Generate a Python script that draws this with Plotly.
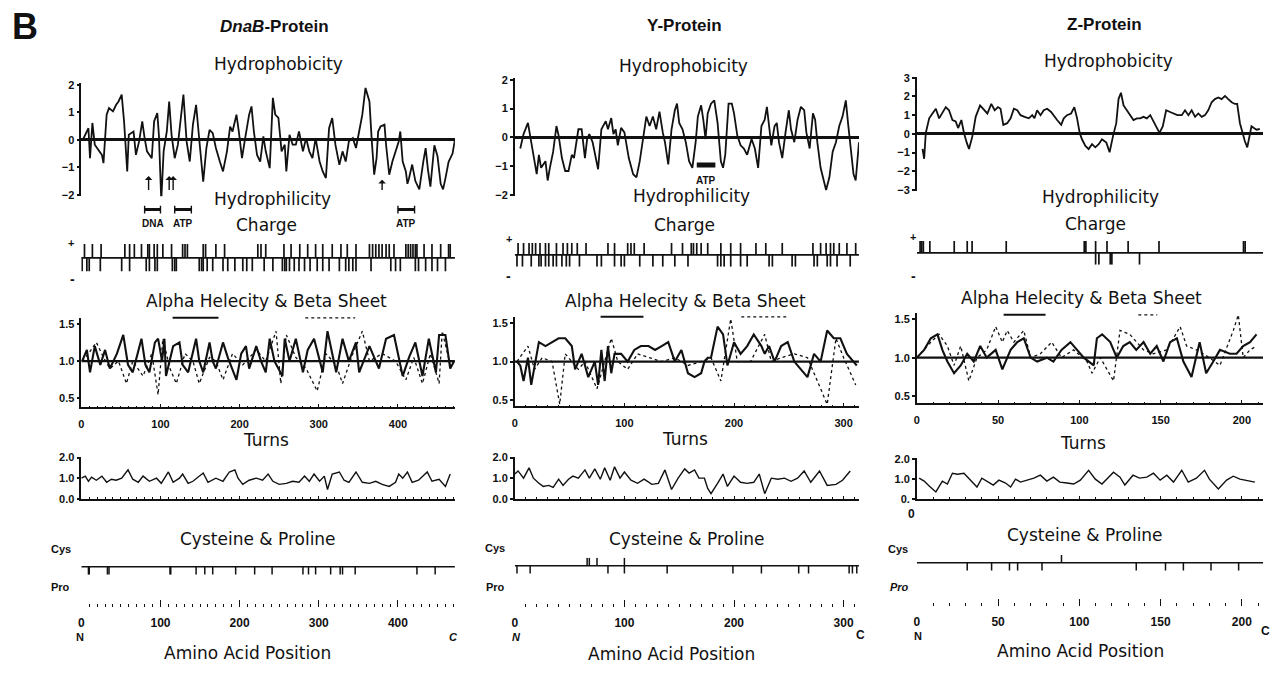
import plotly.graph_objects as go

W, H = 1272, 674
SANS = "DejaVu Sans, Liberation Sans, Arial, sans-serif"
HEAD = "Liberation Sans, Arial, Helvetica, sans-serif"
INK = "#111111"

# ---------------- data (residue, value) ----------------
dnab_hydro = [(2,0),(7,0.30),(9,0.42),(11,-0.67),(14,0.61),(17,-0.18),(21,-0.36),(26,-0.55),(28,-0.85),(32,0.91),
    (35,1.15),(40,1.03),(44,1.27),(47,1.39),(51,1.64),(54,0.67),(58,-1.15),(60,0.18),(66,0.30),(69,-0.55),
    (73,-0.06),(77,0.67),(80,0.06),(83,-0.42),(89,-0.67),(92,0.67),(96,0.97),(98,0.18),(101,-2.2),(104,-0.42),
    (108,0.30),(111,1.39),(114,0.18),(118,-0.67),(122,-0.18),(126,0.91),(129,1.64),(133,-0.06),(137,-0.79),(141,0.55),
    (145,1.27),(150,-0.30),(154,-1.52),(158,-0.30),(162,0.36),(166,0.24),(170,-0.30),(175,-0.79),(179,-1.15),(184,-0.42),
    (188,0.48),(191,0.30),(196,0.91),(199,0.30),(203,-0.67),(207,0.06),(212,0.91),(215,1.21),(218,0.30),(222,-0.55),
    (226,-0.79),(230,0.12),(233,-0.42),(238,-1.03),(242,1.52),(245,0.91),(249,0.79),(253,-0.42),(257,-0.18),(259,-1.15),
    (263,0.18),(267,-0.18),(271,-0.18),(275,0.30),(280,-0.42),(284,0.06),(288,-0.42),(292,-0.67),(296,0.06),(301,-0.79),
    (305,-1.15),(309,-1.39),(313,0.42),(317,0.79),(321,-0.18),(326,-0.91),(330,-0.42),(334,-0.79),(338,-0.06),(343,0.06),
    (347,-0.30),(351,0.30),(355,0.91),(359,1.88),(364,1.39),(367,-0.06),(370,-1.27),(373,-0.67),(375,0.30),(378,0.48),
    (383,0.55),(385,-0.18),(389,-1.27),(393,-0.79),(397,-0.42),(401,-0.06),(403,0.30),(406,-0.79),(410,-1.15),(412,-1.6),
    (414,-1.4),(418,-0.9),(422,-1.5),(427,-1.8),(432,-0.8),(435,-0.3),(438,-1.1),(441,-1.7),(446,-0.2),(450,-0.6),
    (454,-1.6),(457,-1.8),(460,-1.4),(464,-0.8),(469,-0.5),(472,0)]

y_hydro = [(5,-0.39),(8,0.11),(12,0.5),(14,0.06),(17,-0.61),(20,-1.28),(22,-0.61),(24,-1.06),(28,-0.83),(30,-1.5),
    (32,-1.06),(35,-0.5),(38,0.39),(40,0.06),(43,-0.72),(46,-1.17),(49,-1.17),(52,-0.61),(54,-0.72),(58,0.28),
    (61,0.28),(64,-0.72),(66,-0.06),(68,0.11),(71,-0.17),(74,-0.72),(76,-1.11),(79,0.28),(83,0.56),(85,0.28),
    (88,0.67),(90,0.11),(92,0.28),(94,-0.28),(97,0.33),(100,0.17),(104,-0.72),(108,-1.28),(111,-1.39),(114,-0.83),
    (117,-0.06),(120,0.72),(123,0.39),(126,0.72),(129,0.28),(132,0.89),(135,0.17),(137,-0.17),(140,-0.94),(143,0.28),
    (146,0.94),(148,1.17),(150,0.5),(153,0.28),(156,-0.17),(159,-0.83),(162,-1.06),(165,-0.17),(167,0.72),(170,1.11),
    (172,0.61),(174,-0.06),(176,0.83),(179,1.17),(182,1.28),(185,0.5),(188,-0.83),(190,-1.06),(192,-0.61),(195,1.17),
    (198,1.17),(200,0.83),(203,0.06),(206,-0.28),(209,-0.39),(212,-0.61),(216,-0.06),(219,-0.39),(222,-1.06),(225,0.39),
    (228,0.61),(230,1.06),(232,0.39),(234,-0.28),(237,0.39),(239,0.5),(241,-0.17),(244,-0.72),(247,0.17),(250,0.94),
    (252,0.28),(255,-0.17),(258,0.61),(261,1.06),(264,0.94),(266,0.17),(269,-0.39),(272,0.83),(274,0.61),(276,-0.17),
    (279,-1.06),(284,-1.83),(287,-1.39),(290,-0.5),(293,-0.17),(296,0.39),(299,0.72),(302,1.28),(304,0.5),(306,-0.28),
    (309,-1.28),(311,-1.5),(314,-0.17)]

z_hydro = [(3.5,-0.8),(4.5,-1.33),(5.5,0.05),(7.6,0.83),(9.6,1.09),(11.7,1.34),(13.7,0.83),(15.7,1.09),(17.8,1.43),(19.8,1.26),
    (21.9,0.74),(23.9,0.66),(25.4,0.31),(27.4,0.74),(29,0.05),(30.7,-0.47),(32.1,-0.81),(34.2,-0.12),(36.2,0.91),(38.9,1.52),
    (41.3,1.26),(43.4,1.09),(45.8,1.6),(47.9,1.26),(49.9,1.43),(51.5,1.34),(53.2,0.48),(55.6,0.57),(57.7,0.83),(59.7,1.34),
    (61.8,1.26),(63.8,1.0),(66.3,0.91),(68.9,0.83),(71,1.0),(72.4,0.83),(74,1.26),(76.1,1.0),(78.1,1.26),(80.2,1.34),
    (82.6,1.17),(84.7,0.91),(86.3,0.74),(88.8,0.48),(90.4,0.83),(92.4,1.0),(94.9,1.09),(96.9,1.43),(98.6,0.83),(100.2,0.05),
    (101.6,-0.29),(103.7,-0.64),(105.7,-0.81),(107.8,-0.55),(109.8,-0.72),(111.9,-0.55),(113.9,-0.29),(116.6,-0.47),(118.6,-0.98),(120.7,-0.12),
    (122.7,0.57),(124.1,1.86),(125.6,2.2),(127.2,1.52),(129.2,1.26),(131.3,1.0),(133.3,0.74),(135.4,0.83),(137.4,0.83),(139.5,0.91),
    (141.5,0.83),(143.6,1.0),(145.6,0.66),(147.6,0.31),(149.3,0.05),(151.3,0.4),(153.4,1.26),(155.8,1.17),(157.9,1.09),(160.3,1.0),
    (163,1.0),(165,1.26),(167.1,1.0),(169.1,1.26),(171.2,0.91),(173.2,1.09),(175.3,0.91),(177.3,1.0),(179.3,1.26),(181.4,1.69),
    (183.4,1.86),(185.5,1.95),(187.5,1.86),(189.6,2.03),(191.6,1.86),(193.7,1.69),(195.7,1.6),(197.1,1.6),(198.8,0.57),(200.4,-0.03),
    (201.8,-0.38),(203.3,-0.72),(204.5,-0.12),(205.9,0.4),(207.4,0.31),(209,0.22),(211,0.26)]

dnab_charge_pos = [4,14,25,55,61,67,76,84,86,92,96,103,114,128,131,134,154,157,170,181,223,227,233,256,265,276,286,296,305,317,
    328,336,347,364,368,372,376,380,385,389,395,410,413,416,419,422,424,433,443,454,464,466]
dnab_charge_neg = [1,7,10,24,51,61,82,86,93,96,115,118,120,149,152,154,159,166,179,185,194,204,209,216,231,242,254,257,259,263,
    269,275,282,289,298,305,313,326,334,338,343,347,366,391,397,403,422,426,435,443,450,460]
y_charge_pos = [3,8,13,16,19,23,28,31,38,44,48,52,57,65,85,91,103,106,109,118,143,153,161,163,166,170,176,188,197,206,220,229,
    244,272,279,284,288,291,296,303,311]
y_charge_neg = [2,7,15,22,24,28,31,35,38,43,47,50,59,75,79,91,97,100,114,126,135,146,158,185,188,191,197,206,212,232,235,253,
    256,273,276,285,288,294,306]
z_charge_pos = [2,3,4,8,23,31,34,55,103,104,110,117,130,149,201,202]
z_charge_neg = [110,112,119,120,137]

dnab_alpha = [(1,1.0),(7,1.15),(11,0.85),(17,1.2),(24,0.95),(30,1.15),(36,0.9),(45,1.1),(53,1.35),(59,0.95),(65,0.85),(72,1.15),
    (76,1.3),(81,0.95),(86,0.85),(93,1.25),(97,1.3),(102,1.0),(105,1.3),(107,0.8),(116,1.2),(124,1.25),(128,0.95),(135,0.85),
    (145,1.3),(149,1.0),(154,0.85),(162,1.25),(166,1.0),(170,0.9),(179,1.25),(185,1.05),(196,0.75),(202,1.1),(208,1.2),(212,0.9),
    (221,1.2),(227,1.0),(233,0.85),(238,1.3),(244,1.0),(254,0.8),(257,1.3),(263,1.0),(271,1.3),(280,0.85),(286,1.15),(294,1.3),
    (305,0.85),(311,1.4),(322,0.85),(330,1.3),(338,1.0),(347,1.25),(351,0.85),(364,1.2),(376,0.9),(385,1.3),(395,1.35),(406,0.8),
    (414,1.05),(422,1.25),(431,0.8),(439,1.3),(448,0.85),(452,1.35),(460,1.35),(466,0.9),(471,1.0)]
dnab_beta = [(1,1.0),(9,1.1),(19,1.25),(28,1.05),(36,0.9),(47,1.0),(57,0.7),(65,1.0),(78,0.8),(89,1.1),(97,0.55),(103,1.3),
    (112,0.9),(120,0.7),(131,1.1),(141,1.0),(149,0.7),(162,1.05),(170,1.0),(179,0.75),(191,1.1),(204,0.95),(221,1.15),(233,1.0),
    (246,1.4),(252,0.7),(259,1.35),(271,1.05),(284,0.9),(298,0.6),(309,1.1),(322,0.95),(330,0.7),(343,1.1),(355,1.4),(364,1.0),
    (380,1.1),(397,1.0),(410,0.75),(420,1.05),(431,0.7),(441,1.1),(452,0.7),(456,1.4),(466,0.95),(471,1.0)]
y_alpha = [(2,1.0),(5,0.95),(8,0.75),(12,1.05),(15,0.7),(22,1.25),(28,1.2),(34,1.25),(40,1.3),(46,1.3),(52,1.2),(55,0.9),
    (61,1.1),(67,0.8),(73,1.0),(76,0.7),(79,1.15),(82,0.75),(85,1.2),(88,0.85),(91,1.1),(97,1.1),(103,1.0),(109,1.15),(115,1.2),
    (122,1.2),(128,1.15),(134,1.2),(140,1.25),(146,1.0),(152,1.15),(158,0.85),(164,0.8),(170,0.85),(173,1.0),(176,1.05),(179,1.05),
    (185,1.45),(190,1.35),(194,0.95),(200,1.25),(206,1.1),(212,1.2),(218,1.35),(225,1.2),(228,1.1),(232,1.2),(237,1.0),(243,1.2),
    (249,1.25),(255,1.0),(261,0.9),(267,0.8),(273,1.1),(279,1.0),(285,1.4),(291,1.3),(297,1.3),(303,1.1),(309,1.0),(312,0.95)]
y_beta = [(2,1.0),(12,1.2),(18,0.9),(25,1.05),(34,1.0),(41,0.45),(46,1.1),(52,1.0),(58,0.9),(64,1.0),(75,0.65),(82,1.0),(88,1.3),
    (94,1.0),(103,0.9),(112,1.1),(122,1.05),(134,1.0),(146,1.05),(158,0.95),(170,1.0),(179,1.05),(188,0.75),(197,1.55),(203,1.0),
    (215,1.0),(228,1.35),(234,1.0),(243,1.05),(255,1.1),(267,1.05),(273,0.85),(285,0.45),(293,1.3),(300,1.05),(311,0.7)]
z_alpha = [(0,1.0),(4.5,1.1),(8.6,1.25),(12.7,1.3),(15.7,1.1),(18.8,0.95),(22.9,0.8),(27,0.9),(31,1.05),(35,0.95),(39,1.15),
    (43,1.0),(48.5,1.1),(52.6,0.85),(57.7,1.1),(61.8,1.2),(65.8,1.25),(70,1.0),(74,0.95),(80,1.0),(84,0.95),(89,1.1),(94.5,1.2),
    (98.6,1.1),(102.7,1.0),(108.8,0.9),(110.8,1.25),(114,1.3),(119,1.2),(123,1.0),(127,1.15),(131,1.2),(135,1.1),(139.5,1.2),
    (143.6,1.05),(147.6,1.15),(151.7,0.95),(155.8,1.2),(160,1.25),(164,0.95),(169,0.75),(174,1.2),(178,0.8),(182.4,0.95),
    (186.5,1.1),(192.6,1.05),(196.7,1.05),(200.8,1.15),(205,1.2),(209,1.3)]
z_beta = [(0,1.0),(8.6,1.2),(13.7,1.3),(18.8,1.15),(22.9,0.9),(27,1.15),(32,0.7),(37,1.0),(43,1.1),(48.5,1.4),(52.6,1.2),
    (55.6,1.35),(59.7,1.2),(65.8,1.35),(70,1.0),(76,1.05),(83,1.2),(89,1.0),(96.5,1.1),(104.7,0.95),(107.8,0.8),(112.9,1.0),
    (121,0.7),(125,1.35),(131,1.3),(139.5,1.1),(145.6,1.05),(153.8,1.1),(162,1.4),(166,1.15),(172,1.1),(180,1.0),(186.5,0.9),
    (194.7,1.35),(197.8,1.55),(200.8,1.0),(205,1.1),(209,1.15)]

dnab_turns = [(0,1.0),(5,1.1),(9,0.85),(13,1.05),(19,0.9),(26,1.1),(32,0.8),(38,0.95),(44,0.9),(51,1.0),(59,1.4),(65,0.95),
    (72,0.8),(78,1.1),(86,0.85),(95,1.0),(101,0.75),(110,1.3),(116,0.8),(124,1.0),(128,1.2),(135,0.75),(141,0.85),(147,1.05),
    (154,1.25),(160,0.8),(170,1.0),(179,0.85),(187,1.3),(194,1.4),(198,1.0),(204,0.7),(212,0.9),(221,1.0),(229,0.9),(236,1.2),
    (242,0.85),(250,0.7),(259,0.75),(267,0.85),(275,0.8),(282,1.1),(288,0.85),(294,1.2),(301,0.85),(307,1.1),(311,0.45),(317,1.2),
    (326,1.3),(332,0.9),(338,0.8),(347,1.3),(355,0.8),(364,0.75),(372,0.85),(380,0.7),(389,0.6),(397,0.8),(401,1.2),(406,1.0),
    (412,1.3),(418,0.8),(426,0.9),(437,1.3),(443,0.85),(452,0.95),(460,0.6),(466,1.2)]
y_turns = [(0,1.2),(3,1.35),(8,1.0),(13,1.5),(17,1.0),(22,0.75),(26,0.6),(31,0.65),(35,0.55),(40,0.95),(44,0.65),(49,0.95),
    (53,1.1),(58,1.0),(64,1.4),(68,1.0),(73,1.45),(78,0.95),(82,1.5),(87,0.9),(91,1.55),(96,1.0),(100,1.3),(106,0.9),(112,0.75),
    (118,0.95),(125,0.7),(131,0.75),(137,1.4),(143,0.45),(149,1.0),(155,1.45),(159,1.25),(164,1.4),(168,1.0),(173,1.0),(176,0.5),
    (179,0.25),(185,0.75),(190,1.2),(194,0.6),(200,1.1),(206,0.8),(212,0.75),(218,0.8),(223,1.2),(228,0.25),(234,1.0),(240,0.95),
    (246,1.0),(252,0.85),(258,1.0),(264,1.35),(270,0.8),(278,1.35),(285,0.65),(293,0.7),(299,0.9),(306,1.35)]
z_turns = [(1.4,1.05),(4.5,0.9),(7.6,0.65),(11.7,0.35),(15.7,0.9),(18.8,0.75),(21.9,1.3),(25,1.25),(29,1.3),(33,0.95),(37,0.6),
    (40,1.05),(43,0.9),(47,0.7),(50.5,0.95),(54.6,0.8),(57.7,0.6),(60.7,1.0),(63.8,0.85),(68,0.95),(72,1.05),(76,1.2),(80,0.9),
    (84,1.1),(88,0.85),(92.4,0.8),(96.5,0.75),(100.6,0.95),(105.7,1.45),(109.8,1.0),(113.9,0.75),(121,1.35),(125,1.1),(128,0.7),
    (133,1.2),(137,1.05),(141.5,1.1),(145.6,1.3),(149.7,0.95),(153.8,1.2),(157.9,0.85),(163,1.45),(167,0.85),(172,1.05),(177,1.45),
    (180,1.0),(185.5,0.5),(190.6,0.95),(194.7,1.15),(198.8,1.0),(202.9,0.95),(208,0.85)]

dnab_pro = [9,10,33,35,112,113,145,156,166,195,219,241,280,287,296,315,327,330,346,424,447]
dnab_cys = []
y_pro = [2,14,85,100,139,199,225,259,268,305,308,312]
y_cys = [66,68,75,100]
z_pro = [31,46,57,62,77,135,153,164,181,198]
z_cys = [89]

# DnaB motif marks (residues)
dnab_arrows = [85, 111, 116, 380]
dnab_motifs = [("DNA", 80, 100), ("ATP", 118, 139), ("ATP", 400, 421)]
y_motifs = [("ATP", 166, 183)]

# ---------------- layout helpers ----------------
fig = go.Figure()
layout = {}
shapes = []
annos = []
count = [0]


def px(x):
    return x / W


def py(y):
    return 1 - y / H


def tickfont(size=11):
    return dict(family=HEAD, size=size, color=INK, weight="bold")


def new_axes(xd, yd, xr, yr, xo=None, yo=None):
    count[0] += 1
    k = count[0]
    sx = "" if k == 1 else str(k)
    xa = dict(domain=[px(xd[0]), px(xd[1])], range=xr, anchor="y" + sx, showgrid=False, zeroline=False,
              showline=False, showticklabels=False, ticks="", linecolor=INK, tickcolor=INK)
    ya = dict(domain=[py(yd[1]), py(yd[0])], range=yr, anchor="x" + sx, showgrid=False, zeroline=False,
              showline=False, showticklabels=False, ticks="", linecolor=INK, tickcolor=INK)
    if xo:
        xa.update(xo)
    if yo:
        ya.update(yo)
    layout["xaxis" + sx] = xa
    layout["yaxis" + sx] = ya
    return "x" + sx, "y" + sx


def add_line(xa, ya, pts, width, dash="solid"):
    xs = [p[0] for p in pts]
    ys = [p[1] for p in pts]
    fig.add_trace(go.Scatter(x=xs, y=ys, xaxis=xa, yaxis=ya, mode="lines",
                             line=dict(color=INK, width=width, dash=dash), hoverinfo="skip"))


def add_sticks(xa, ya, positions, top, width=1.7):
    xs, ys = [], []
    for p in positions:
        xs += [p, p, None]
        ys += [0, top, None]
    if xs:
        fig.add_trace(go.Scatter(x=xs, y=ys, xaxis=xa, yaxis=ya, mode="lines",
                                 line=dict(color=INK, width=width), hoverinfo="skip"))


def hline(xa, ya, x0, x1, y, width):
    shapes.append(dict(type="line", xref=xa, yref=ya, x0=x0, x1=x1, y0=y, y1=y,
                       line=dict(color=INK, width=width), layer="below"))


def text(t, x, y, size=17, family=SANS, bold=False, italic=False, xanchor="center"):
    f = dict(family=family, size=size, color=INK)
    if bold:
        f["weight"] = "bold"
    if italic:
        f["style"] = "italic"
    annos.append(dict(text=t, x=px(x), y=py(y), xref="paper", yref="paper", showarrow=False,
                      xanchor=xanchor, yanchor="middle", font=f))


cols = [
    dict(x0=78.5, x1=453, xmax=472, dt=100, hydro=dnab_hydro, hy=(79.6, 194.4), hr=[-2.05, 2.05], ht=[-2, -1, 0, 1, 2],
         cy=(243, 271), cpos=dnab_charge_pos, cneg=dnab_charge_neg,
         ay=(318.7, 409), ar=[0.382, 1.57], alpha=dnab_alpha, beta=dnab_beta,
         ty=(459, 502), tr=[0, 2.05], turns=dnab_turns, tt=["0.0", "1.0", "2.0"],
         py_=(563, 612), pr=[-5.125, 1], pro=dnab_pro, cys=dnab_cys),
    dict(x0=513, x1=858, xmax=314, dt=100, hydro=y_hydro, hy=(74.5, 194.5), hr=[-2.05, 2.05], ht=[-2, -1, 0, 1, 2],
         cy=(242, 266), cpos=y_charge_pos, cneg=y_charge_neg,
         ay=(317.5, 408), ar=[0.424, 1.57], alpha=y_alpha, beta=y_beta,
         ty=(459, 502), tr=[0, 2.05], turns=y_turns, tt=["0.0", "1.0", "2.0"],
         py_=(562, 612), pr=[-5.25, 1], pro=y_pro, cys=y_cys),
    dict(x0=916, x1=1263, xmax=213, dt=50, hydro=z_hydro, hy=(73, 189), hr=[-3.05, 3.05], ht=[-3, -2, -1, 0, 1, 2, 3],
         cy=(240, 264), cpos=z_charge_pos, cneg=z_charge_neg,
         ay=(313.5, 405), ar=[0.411, 1.57], alpha=z_alpha, beta=z_beta,
         ty=(461, 502), tr=[0, 2.05], turns=z_turns, tt=["0.", "1.0", "2.0"],
         py_=(559, 611), pr=[-5.5, 1], pro=z_pro, cys=z_cys),
]

yax_common = dict(showline=True, linewidth=1.6, ticks="outside", ticklen=3, tickwidth=1.5,
                  showticklabels=True, tickfont=tickfont(11))

hyd_axes = []
for c in cols:
    xd = (c["x0"], c["x1"])
    xr = [0, c["xmax"]]
    # hydrophobicity
    yo = dict(yax_common)
    yo.update(tickvals=c["ht"], zeroline=True, zerolinewidth=2.6, zerolinecolor=INK)
    xa, ya = new_axes(xd, c["hy"], xr, c["hr"], yo=yo)
    hyd_axes.append((xa, ya))
    add_line(xa, ya, c["hydro"], 1.8)
    # charge
    xa, ya = new_axes(xd, c["cy"], xr, [-1, 1])
    hline(xa, ya, 0, c["xmax"], 0, 1.8)
    add_sticks(xa, ya, c["cpos"], 1)
    add_sticks(xa, ya, c["cneg"], -1)
    # alpha helicity & beta sheet
    xo = dict(showline=True, linewidth=1.6, ticks="inside", ticklen=4, tickwidth=1.2, dtick=c["dt"], tick0=0,
              showticklabels=True, tickfont=tickfont(11), ticklabelstandoff=6,
              minor=dict(dtick=10, ticks="inside", ticklen=2, tickwidth=1, tickcolor=INK))
    yo = dict(yax_common)
    yo.update(tickvals=[0.5, 1.0, 1.5], ticktext=["0.5", "1.0", "1.5"])
    xa, ya = new_axes(xd, c["ay"], xr, c["ar"], xo=xo, yo=yo)
    hline(xa, ya, 0, c["xmax"], 1.0, 2.4)
    add_line(xa, ya, c["beta"], 1.3, dash="dot")
    add_line(xa, ya, c["alpha"], 2.1)
    # turns
    xo = dict(showline=True, linewidth=1.6, ticks="inside", ticklen=3, tickwidth=1.2, dtick=c["dt"], tick0=0,
              minor=dict(dtick=10, ticks="inside", ticklen=2, tickwidth=1, tickcolor=INK))
    yo = dict(yax_common)
    yo.update(tickvals=[0, 1, 2], ticktext=c["tt"])
    xa, ya = new_axes(xd, c["ty"], xr, c["tr"], xo=xo, yo=yo)
    add_line(xa, ya, c["turns"], 1.4)
    # cysteine & proline
    xo = dict(showline=False, ticks="inside", ticklen=7, tickwidth=1.3, dtick=c["dt"], tick0=0,
              showticklabels=True, tickfont=tickfont(12), ticklabelstandoff=7,
              minor=dict(dtick=10, ticks="inside", ticklen=3, tickwidth=1.1, tickcolor=INK))
    xa, ya = new_axes(xd, c["py_"], xr, c["pr"], xo=xo)
    hline(xa, ya, 0, c["xmax"], 0, 1.6)
    add_sticks(xa, ya, c["pro"], -1, 1.5)
    add_sticks(xa, ya, c["cys"], 1, 1.5)

# DnaB arrows and motif bars
xa1, ya1 = hyd_axes[0]
for r in dnab_arrows:
    tip = -1.32 if r < 300 else -1.45
    annos.append(dict(x=r, y=tip, xref=xa1, yref=ya1, ax=r, ay=-1.88, axref=xa1, ayref=ya1, text="",
                      showarrow=True, arrowhead=1, arrowsize=0.9, arrowwidth=1.4, arrowcolor=INK, standoff=0))
for name, a, b in dnab_motifs:
    shapes.append(dict(type="line", xref=xa1, yref="paper", x0=a, x1=b, y0=py(208), y1=py(208),
                       line=dict(color=INK, width=3)))
    for e in (a, b):
        shapes.append(dict(type="line", xref=xa1, yref="paper", x0=e, x1=e, y0=py(204), y1=py(212),
                           line=dict(color=INK, width=1.4)))
    annos.append(dict(text=name, x=(a + b) / 2, y=py(222), xref=xa1, yref="paper", showarrow=False,
                      xanchor="center", yanchor="middle", font=dict(family=HEAD, size=10, color=INK, weight="bold")))
xa2, ya2 = hyd_axes[1]
for name, a, b in y_motifs:
    shapes.append(dict(type="line", xref=xa2, yref=ya2, x0=a, x1=b, y0=-0.96, y1=-0.96,
                       line=dict(color=INK, width=5)))
    annos.append(dict(text=name, x=(a + b) / 2, y=-1.5, xref=xa2, yref=ya2, showarrow=False,
                      xanchor="center", yanchor="middle", font=dict(family=HEAD, size=10, color=INK, weight="bold")))

# legend marks for helix (solid) and sheet (dotted)
legend_marks = [((170, 216, 318), (303, 353, 318)), ((599, 642, 317), (740, 788, 317)), ((1003, 1045, 315), (1138, 1157, 315))]
for solid, dotted in legend_marks:
    shapes.append(dict(type="line", xref="paper", yref="paper", x0=px(solid[0]), x1=px(solid[1]),
                       y0=py(solid[2]), y1=py(solid[2]), line=dict(color=INK, width=2)))
    shapes.append(dict(type="line", xref="paper", yref="paper", x0=px(dotted[0]), x1=px(dotted[1]),
                       y0=py(dotted[2]), y1=py(dotted[2]), line=dict(color=INK, width=1.3, dash="dot")))

# ---------------- texts ----------------
text("B", 22, 22, size=36, family=HEAD, bold=True)
text("<i>DnaB</i>-Protein", 272, 22, size=17, family=HEAD, bold=True)
text("Y-Protein", 683, 21, size=17, family=HEAD, bold=True)
text("Z-Protein", 1104, 20, size=17, family=HEAD, bold=True)
for t, pos in [("Hydrophobicity", [(276, 60), (682, 62), (1108, 57)]),
               ("Hydrophilicity", [(270, 197), (690, 194), (1100, 195)]),
               ("Charge", [(264, 224), (683, 224), (1095, 223)]),
               ("Alpha Helecity & Beta Sheet", [(264, 301), (684, 301), (1081, 298)]),
               ("Turns", [(264, 442), (684, 441), (1083, 445)]),
               ("Cysteine & Proline", [(256, 543), (686, 543), (1085, 539)]),
               ("Amino Acid Position", [(245, 659), (670, 660), (1080, 657)])]:
    for x, y in pos:
        text(t, x, y, size=17)
for x, y in [(68, 242), (507, 238), (912, 236)]:
    text("+", x, y, size=11, family=HEAD, bold=True)
for x, y in [(70, 279), (507, 276), (913, 275)]:
    text("-", x, y, size=14, family=HEAD, bold=True)
for x, y in [(58, 553), (493, 552), (897, 553)]:
    text("Cys", x, y, size=11, family=HEAD, bold=True)
text("Pro", 58, 592, size=11, family=HEAD, bold=True)
text("Pro", 494, 592, size=11, family=HEAD, bold=True)
text("Pro", 899, 592, size=11, family=HEAD, bold=True, italic=True)
text("N", 77, 642, size=11, family=HEAD, bold=True)
text("C", 452, 642, size=11, family=HEAD, bold=True, italic=True)
text("N", 515, 642, size=11, family=HEAD, bold=True, italic=True)
text("C", 860, 640, size=12, family=HEAD, bold=True)
text("N", 917, 641, size=11, family=HEAD, bold=True)
text("C", 1265, 636, size=12, family=HEAD, bold=True)
text("0", 911, 517, size=12, family=HEAD, bold=True)

layout.update(width=W, height=H, margin=dict(l=0, r=0, t=0, b=0), paper_bgcolor="white", plot_bgcolor="white",
              showlegend=False, shapes=shapes, annotations=annos)
fig.update_layout(**layout)
fig.write_html("out.html")
